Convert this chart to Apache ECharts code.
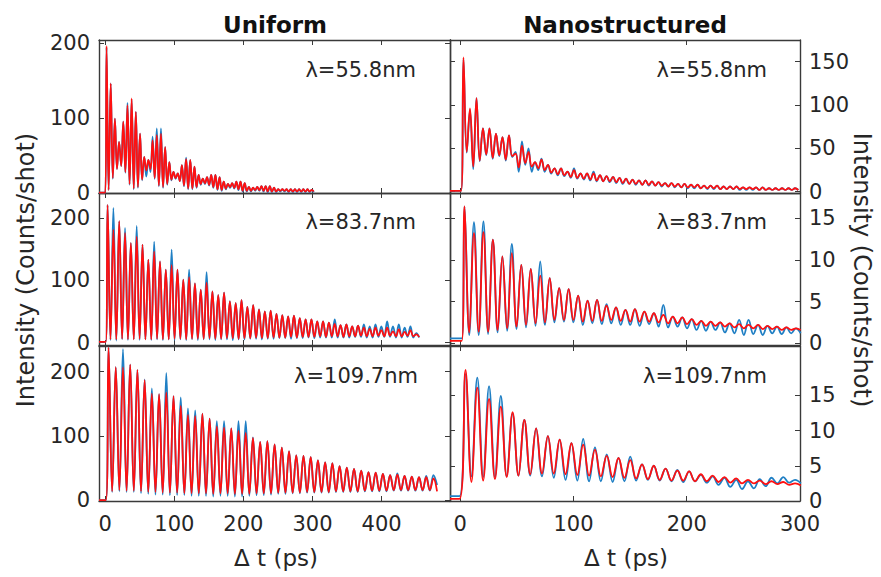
<!DOCTYPE html>
<html>
<head>
<meta charset="utf-8">
<script src="https://cdn.jsdelivr.net/npm/echarts@6/dist/echarts.min.js"></script>
<style>
  html, body { margin: 0; padding: 0; background: #fff; }
  #chart { width: 881px; height: 577px; }
</style>
</head>
<body>
<div id="chart"></div>
<script>
// ---- axes ----
const uniformRange = [-9, 499]
const nanoRange = [-9, 300]
const uniformXTicks = [0, 100, 200, 300, 400]
const nanoXTicks = [0, 100, 200, 300]
const uniformYTicks = [0, 100, 200]
const nanoTopYTicks = [0, 50, 100, 150]
const nanoYTicks = [0, 5, 10, 15]
const tlRange = [0, 204]
const trRange = [-1.5, 175]
const mlRange = [-4, 240]
const mrRange = [-0.2, 18]
const blRange = [-1, 240]
const brRange = [0, 22]
const lambdaLabels = ['λ=55.8nm', 'λ=83.7nm', 'λ=109.7nm']

// ---- traces: peaks and troughs read off each cycle ----
// timing = [first peak (ps), period (ps)], lead = [pulse onset (ps), red baseline, blue baseline]
const tlTiming = [1.9, 6.06]
const tlLead = [0.2, 0.5, 0.5]
const tlRedPeak = [196,146,99,68,95,117,126,108,79,48, 44,70,77,79,61,41,28,26,37,45, 44,35,24,19,21,24,24,21,15,12, 13,15,15,13,8,7,8,9,9,9, 7,5,5,5,5,5,5,5,5,4]
const tlRedTrough = [4,20,32,36,28,12,6,8,18,30, 32,20,10,8,12,18,20,16,10,6, 6,8,12,13,11,8,5,4,6,8, 7,5,3,3,3,4,4,3,2,2, 2,3,3,2,2,2,2,2,2,2]
const tlBluePeak = [194,146,99,68,95,120,124,108,79,48, 44,75,86,86,61,41,28,26,37,47, 44,35,24,19,21,24,24,21,15,12, 13,15,15,13,8,7,8,9,9,9, 7,5,5,5,5,5,5,5,5,4]
const tlBlueTrough = [4,19,32,36,27,11,5,7,17,22, 28,19,9,7,11,17,19,16,9,5, 5,7,11,12,10,7,4,3,5,7, 6,4,2,2,2,3,3,2,1,1, 1,2,2,1,1,1,1,1,1,1]

const trTiming = [2.9, 5.74]
const trLead = [0.8, 1, 1]
const trRedPeak = [155,96,108,73,73,67,63,65,44,53, 46,34,37,31,27,27,23,25,21,21, 21,19,18,17,16,15,14,13,13,12, 11,10,10,9,9,8,8,7,7,7, 6,6,6,5,5,5,5,4,4,4, 4,4]
const trRedTrough = [46,29,36,43,39,42,37,41,28,33, 29,27,25,22,20,19,17,16,15,14, 13,12,12,11,10,9,9,8,8,7, 7,6,6,5,5,5,4,4,4,3, 3,3,3,3,3,2,2,2,2,2, 2,2]
const trBluePeak = [153,94,108,73,73,67,63,65,46,58, 50,34,38,31,27,27,23,27,21,21, 23,19,18,17,16,15,14,13,13,12, 11,10,10,9,9,8,8,7,7,7, 6,6,6,5,5,5,5,4,4,4, 4,4]
const trBlueTrough = [45,26,35,42,38,41,36,40,23,31, 23,25,23,21,19,18,16,15,14,13, 12,12,11,10,9,9,8,8,7,7, 6,6,5,5,4,4,4,3,3,3, 3,3,2,2,2,2,2,2,2,2, 2,2]

const mlTiming = [3.4, 8.43]
const mlLead = [0.8, 1, 1]
const mlRedPeak = [221,181,195,176,160,170,157,133,146,130, 117,124,117,101,105,95,85,96,82,76, 80,66,63,68,57,60,53,50,51,46, 44,42,43,39,37,37,34,34,32,30, 28,29,26,27,24,22,24,20,24,18, 21,17,20,13]
const mlRedTrough = [5,5,6,5,5,6,5,5,6,5, 5,6,6,5,6,6,6,7,6,6, 7,7,6,7,7,8,7,7,8,8, 8,9,8,9,9,9,10,9,10,10, 9,10,10,11,10,10,11,10,11,10, 10,11,10,9]
const mlBluePeak = [221,216,195,184,160,187,157,133,162,130, 117,149,117,101,117,95,85,113,82,76, 80,66,63,68,57,60,53,50,51,46, 44,42,43,39,37,37,34,34,32,37, 28,29,26,27,29,26,29,26,34,26, 29,24,26,15]
const mlBlueTrough = [4,3,5,4,5,4,5,4,5,4, 5,4,5,4,5,4,5,5,4,5, 5,4,5,5,6,6,5,6,6,7, 7,6,7,7,8,7,8,8,8,8, 8,8,9,9,8,8,9,9,9,8, 8,9,8,8]

const mrTiming = [3.8, 8.36]
const mrLead = [1.4, 0.3, 0.6]
const mrRedPeak = [16.4,13.2,13.3,12.4,10.4,10.8,9.4,8.9,8.1,7.8, 6.6,6.5,5.7,5.1,5.2,4.5,4.3,4.0,4.1,3.8, 3.6,3.4,3.2,3.1,2.9,2.7,2.6,2.5,2.4,2.3, 2.2,2.2,2.1,2.0,1.9,1.8]
const mrRedTrough = [1.3,1.4,1.4,1.6,1.8,2.0,2.2,2.4,2.5,2.8, 2.8,2.8,2.6,2.7,2.7,2.8,2.7,2.6,2.6,2.6, 2.5,2.4,2.4,2.3,2.2,2.1,2.1,2.0,1.9,1.8, 1.8,1.7,1.7,1.6,1.6,1.6]
const mrBluePeak = [16.4,14.5,14.6,12.4,10.4,11.9,9.4,8.9,9.8,7.8, 6.6,6.5,5.7,5.1,5.2,4.7,4.3,4.0,4.1,3.8, 3.6,4.6,3.2,3.1,2.9,2.7,2.6,2.5,2.4,2.8, 2.8,2.2,2.1,2.0,1.9,1.8]
const mrBlueTrough = [1.0,1.0,1.1,1.3,1.5,1.7,1.9,2.1,2.2,2.5, 2.6,2.5,2.2,2.4,2.3,2.4,2.2,2.2,2.1,2.3, 2.0,1.9,2.0,1.8,1.6,1.5,1.6,1.3,1.2,1.0, 1.1,1.0,1.2,1.1,1.2,1.2]

const blTiming = [4.8, 10.45]
const blLead = [1.0, 0.5, 0.5]
const blRedPeak = [238,207,207,211,203,187,166,165,168,162, 147,133,131,135,127,115,113,112,108,105, 97,91,92,87,82,76,70,69,67,62, 59,58,53,51,49,46,44,43,41,39, 40,38,37,36,36,34]
const blRedTrough = [14,16,15,15,14,13,13,12,12,12, 11,11,11,11,10,11,11,10,10,10, 11,11,11,12,12,12,12,13,13,13, 13,14,14,14,14,15,15,15,15,16, 16,16,16,16,16,14]
const blBluePeak = [238,207,235,211,203,188,174,165,198,162, 160,143,140,135,127,123,123,112,123,123, 98,91,92,87,82,76,70,69,67,62, 59,58,53,51,49,46,44,43,41,39, 42,38,37,36,38,39]
const blBlueTrough = [13,14,13,13,11,10,9,9,8,8, 8,7,7,7,6,7,7,6,6,7, 8,8,9,10,10,11,11,12,12,12, 12,13,13,13,13,14,14,14,14,15, 15,15,15,15,15,24]

const brTiming = [4.7, 10.39]
const brLead = [-0.6, 0.3, 0.7]
const brRedPeak = [18.6,16.1,14.5,13.4,12.6,11.5,10.3,9.2,8.7,8.2, 8.0,7.3,6.4,6.1,5.8,5.2,5.0,4.6,4.3,4.2, 3.8,3.6,3.4,3.2,3.0,2.9,2.8,2.7,2.5]
const brRedTrough = [2.7,2.9,3.1,3.4,3.6,3.8,3.9,3.9,3.8,3.7, 3.6,3.5,3.4,3.3,3.2,3.1,3.0,2.9,2.9,2.8, 2.8,2.7,2.6,2.5,2.5,2.4,2.4,2.3,2.2]
const brBluePeak = [18.0,17.5,16.3,14.9,12.4,11.5,10.3,9.2,8.7,8.2, 8.8,7.6,6.6,6.1,6.3,5.2,5.0,4.6,4.4,4.2, 3.7,3.5,3.3,3.0,2.8,3.1,3.3,3.4,3.0]
const brBlueTrough = [3.5,3.4,3.4,3.5,3.6,3.6,3.5,3.3,3.0,2.9, 2.8,2.8,2.7,2.8,2.9,3.0,2.9,2.8,2.7,2.8, 2.6,2.3,2.0,1.7,1.8,2.1,2.5,2.6,2.5]

// ---- styling ----
const axisColor = '#3a3a3a'
const textColor = '#262626'
const font = 'DejaVu Sans'
const blueColor = '#1f7fc4'
const redColor = '#ff1010'

// grid boxes [left, top, width, height], row by row
const boxes = [
  [99, 40, 351, 153], [450, 40, 350, 153],
  [99, 193, 351, 152], [450, 193, 350, 152],
  [99, 346, 351, 155], [450, 346, 350, 155]
]

const panels = [
  { timing: tlTiming, lead: tlLead, x: uniformRange, xt: uniformXTicks, y: tlRange, yt: uniformYTicks, red: [tlRedPeak, tlRedTrough], blue: [tlBluePeak, tlBlueTrough] },
  { timing: trTiming, lead: trLead, x: nanoRange, xt: nanoXTicks, y: trRange, yt: nanoTopYTicks, red: [trRedPeak, trRedTrough], blue: [trBluePeak, trBlueTrough] },
  { timing: mlTiming, lead: mlLead, x: uniformRange, xt: uniformXTicks, y: mlRange, yt: uniformYTicks, red: [mlRedPeak, mlRedTrough], blue: [mlBluePeak, mlBlueTrough] },
  { timing: mrTiming, lead: mrLead, x: nanoRange, xt: nanoXTicks, y: mrRange, yt: nanoYTicks, red: [mrRedPeak, mrRedTrough], blue: [mrBluePeak, mrBlueTrough] },
  { timing: blTiming, lead: blLead, x: uniformRange, xt: uniformXTicks, y: blRange, yt: uniformYTicks, red: [blRedPeak, blRedTrough], blue: [blBluePeak, blBlueTrough] },
  { timing: brTiming, lead: brLead, x: nanoRange, xt: nanoXTicks, y: brRange, yt: nanoYTicks, red: [brRedPeak, brRedTrough], blue: [brBluePeak, brBlueTrough] }
]

// flat baseline, then alternating peak / trough every half period
function wave(p, trace, baseIdx) {
  const [first, period] = p.timing
  const [peaks, troughs] = trace
  const pts = [[p.x[0], p.lead[baseIdx]], [p.lead[0], p.lead[baseIdx]]]
  peaks.forEach((v, i) => {
    pts.push([first + i * period, v])
    pts.push([first + (i + 0.5) * period, troughs[i]])
  })
  return pts
}

const labelStyle = { fontSize: 21, fontFamily: font, color: textColor }

function axisBase(gi, range, ticks) {
  return {
    type: 'value', gridIndex: gi, min: range[0], max: range[1],
    splitLine: { show: false },
    axisLine: { show: true, onZero: false, lineStyle: { color: axisColor, width: 1.4 } },
    axisTick: { show: true, inside: true, length: 5, customValues: ticks, lineStyle: { color: axisColor, width: 1 } }
  }
}

const option = { animation: false, backgroundColor: '#fff', grid: [], xAxis: [], yAxis: [], series: [] }

panels.forEach((p, i) => {
  const b = boxes[i]
  const leftCol = i % 2 === 0
  const bottomRow = i >= 4
  option.grid.push({ left: b[0], top: b[1], width: b[2], height: b[3], outerBoundsMode: 'none', containLabel: false })

  option.xAxis.push(Object.assign(axisBase(i, p.x, p.xt), {
    position: 'bottom',
    axisLabel: Object.assign({ show: bottomRow, customValues: p.xt, margin: 12 }, labelStyle)
  }))
  option.xAxis.push(Object.assign(axisBase(i, p.x, p.xt), { position: 'top', axisLabel: { show: false } }))

  option.yAxis.push(Object.assign(axisBase(i, p.y, p.yt), {
    position: 'left',
    axisLabel: Object.assign({ show: leftCol, customValues: p.yt, margin: 9 }, labelStyle)
  }))
  option.yAxis.push(Object.assign(axisBase(i, p.y, p.yt), {
    position: 'right',
    axisLabel: Object.assign({ show: !leftCol, customValues: p.yt, margin: 9 }, labelStyle)
  }))

  option.series.push({
    type: 'line', xAxisIndex: 2 * i, yAxisIndex: 2 * i, data: wave(p, p.blue, 2),
    symbol: 'none', smooth: 0.4, lineStyle: { color: blueColor, width: 1.8 }, z: 2
  })
  option.series.push({
    type: 'line', xAxisIndex: 2 * i, yAxisIndex: 2 * i, data: wave(p, p.red, 1),
    symbol: 'none', smooth: 0.4, lineStyle: { color: redColor, width: 1.8 }, z: 3
  })
})

function text(str, x, y, opts) {
  return Object.assign({
    type: 'text', x: x, y: y, silent: true,
    style: Object.assign({ text: str, fill: textColor, fontSize: 21, fontFamily: font, align: 'center', verticalAlign: 'middle' }, opts && opts.style)
  }, opts && opts.el)
}

option.graphic = [
  text('Uniform', 275, 25, { style: { fontSize: 23, fontWeight: 'bold', fill: '#111' } }),
  text('Nanostructured', 625, 25, { style: { fontSize: 23, fontWeight: 'bold', fill: '#111' } }),
  text(lambdaLabels[0], 416, 70, { style: { align: 'right' } }),
  text(lambdaLabels[0], 767, 70, { style: { align: 'right' } }),
  text(lambdaLabels[1], 416, 222, { style: { align: 'right' } }),
  text(lambdaLabels[1], 767, 222, { style: { align: 'right' } }),
  text(lambdaLabels[2], 418, 376, { style: { align: 'right' } }),
  text(lambdaLabels[2], 767, 376, { style: { align: 'right' } }),
  text('Δ t (ps)', 276, 558, { style: { fontSize: 23 } }),
  text('Δ t (ps)', 626, 558, { style: { fontSize: 23 } }),
  text('Intensity (Counts/shot)', 26, 270, { style: { fontSize: 24 }, el: { rotation: Math.PI / 2 } }),
  text('Intensity (Counts/shot)', 862, 270, { style: { fontSize: 24 }, el: { rotation: -Math.PI / 2 } })
]

const chart = echarts.init(document.getElementById('chart'), null, { renderer: 'svg' })
chart.setOption(option)
</script>
</body>
</html>
